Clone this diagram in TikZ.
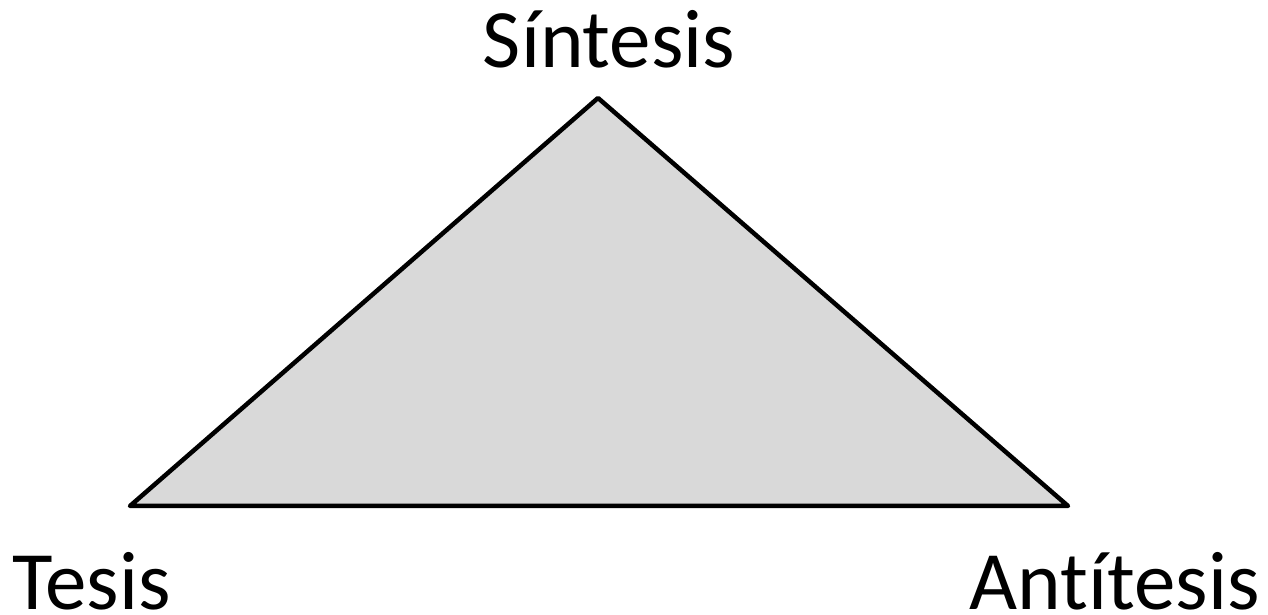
\documentclass[tikz,border=0pt]{standalone}
\usepackage{fontspec}
\setmainfont{Carlito}[Ligatures={NoCommon}]
\usepackage{tikz}
\usetikzlibrary{positioning}
\definecolor{triGray}{HTML}{D9D9D9}

\begin{document}
\begin{tikzpicture}[
  x=1pt, y=1pt,
  lbl/.style={font=\fontsize{83}{99}\selectfont, inner sep=0pt, text depth=0pt},
  tri/.style={draw, line width=4.5pt, fill=triGray, line join=round}
]
\useasboundingbox (0,0) rectangle (1268,615);

% triangle corners
\coordinate (Tv) at (130,109);
\coordinate (Sv) at (598,517);
\coordinate (Av) at (1068,109);

\draw[tri] (Tv) -- (Sv) -- (Av) -- cycle;

% labels
\node[lbl, anchor=base]      (sint) at (609,547) {Síntesis};
\node[lbl, anchor=base west] (tes)  at (12,5)    {Tesis};
\node[lbl, anchor=base east] (ant)  at (1260,5)  {Antítesis};
\end{tikzpicture}
\end{document}
